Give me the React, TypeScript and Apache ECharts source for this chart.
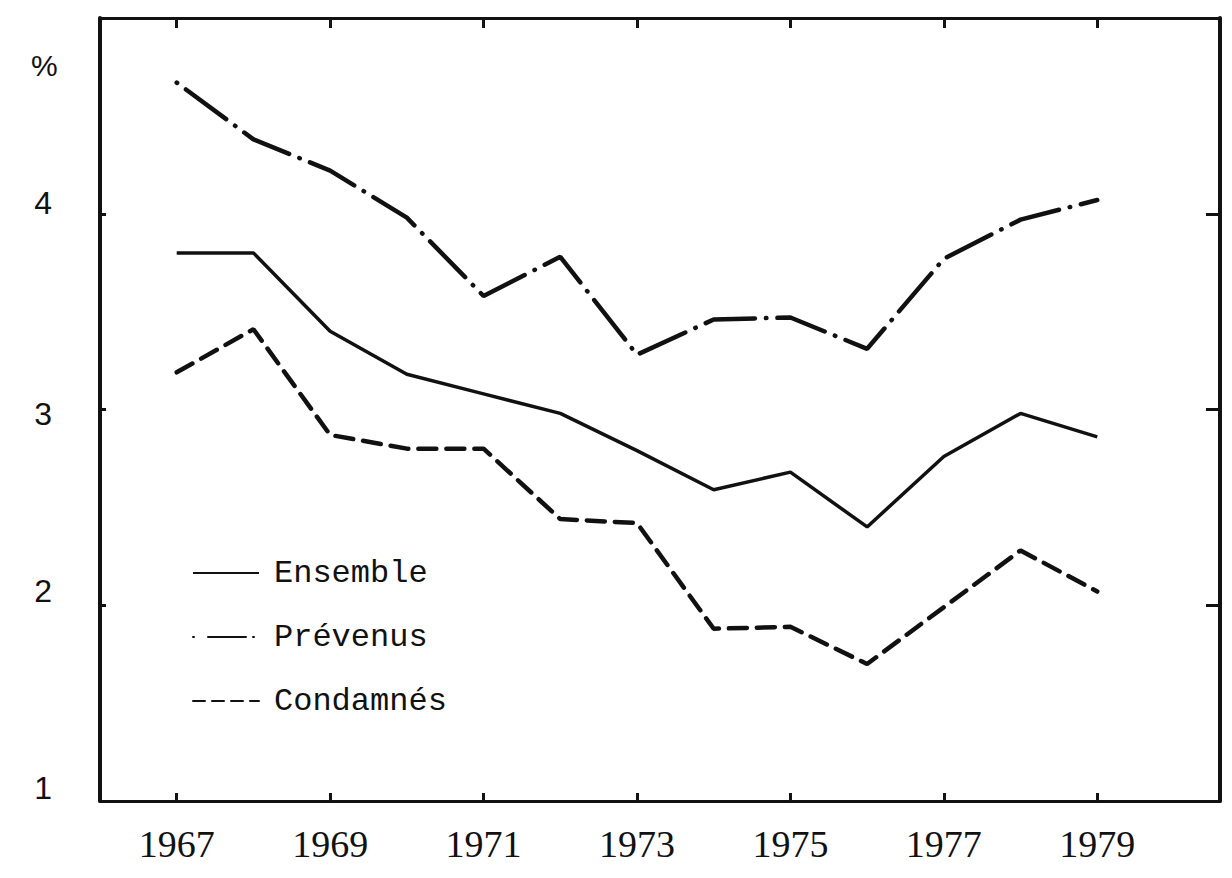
import React, { useEffect, useRef } from "react";
import * as echarts from "echarts";

const years = [1967, 1968, 1969, 1970, 1971, 1972, 1973, 1974, 1975, 1976, 1977, 1978, 1979];
const ensemble = [3.8, 3.8, 3.4, 3.18, 3.08, 2.98, 2.79, 2.59, 2.68, 2.4, 2.76, 2.98, 2.86];
const prevenus = [4.67, 4.38, 4.22, 3.98, 3.58, 3.78, 3.28, 3.46, 3.47, 3.31, 3.77, 3.97, 4.07];
const condamnes = [3.19, 3.41, 2.87, 2.8, 2.8, 2.44, 2.42, 1.88, 1.89, 1.7, 1.99, 2.28, 2.07];
const xLabelYears = [1967, 1969, 1971, 1973, 1975, 1977, 1979];
const yTickValues = [2, 3, 4];
const yLabelValues = [1, 2, 3, 4];
const seriesNames = ["Ensemble", "Prévenus", "Condamnés"];
const unitLabel = "%";

const INK = "#111";
const X_MIN = 1966;
const X_MAX = 1980.6;
const TICK_AXIS_MAX = 1980;
const TICK_STEP = 2;

export default function App() {
  const ref = useRef<HTMLDivElement>(null);
  useEffect(() => {
    document.body.style.margin = "0";
    const chart = echarts.init(ref.current!, null, { renderer: "svg" });
    const pts = (arr: number[]) => years.map((y, i) => [y, arr[i]]);

    const W = 1232;
    const gridLeft = 100;
    const gridRight = 12;
    const gridW = W - gridLeft - gridRight;
    const pxPerYear = gridW / (X_MAX - X_MIN);
    const tickGridRight = W - (gridLeft + (TICK_AXIS_MAX - X_MIN) * pxPerYear);

    const yBase = {
      type: "value",
      min: 1,
      max: 5,
      interval: 1,
      splitLine: { show: false },
    };
    // odd-year ticks are drawn as the minor ticks of an axis whose major ticks fall on even years
    const tickAxisBase = {
      type: "value",
      gridIndex: 1,
      min: X_MIN,
      max: TICK_AXIS_MAX,
      interval: TICK_STEP,
      splitLine: { show: false },
      axisLine: { show: false },
    };
    chart.setOption({
      animation: false,
      backgroundColor: "#fff",
      grid: [
        { left: gridLeft, right: gridRight, top: 18, bottom: 77, outerBoundsMode: "none" },
        { left: gridLeft, right: tickGridRight, top: 18, bottom: 77, outerBoundsMode: "none" },
      ],
      xAxis: [
        {
          type: "value",
          gridIndex: 0,
          min: X_MIN,
          max: X_MAX,
          position: "bottom",
          splitLine: { show: false },
          axisLine: { show: true, lineStyle: { color: INK, width: 3 } },
          axisTick: { show: false },
          axisLabel: { show: false },
        },
        {
          type: "value",
          gridIndex: 0,
          min: X_MIN,
          max: X_MAX,
          position: "top",
          splitLine: { show: false },
          axisLine: { show: true, lineStyle: { color: INK, width: 3 } },
          axisTick: { show: false },
          axisLabel: { show: false },
        },
        {
          ...tickAxisBase,
          position: "bottom",
          axisTick: { show: true, inside: true, length: 10, lineStyle: { color: "rgba(0,0,0,0)", width: 3 } },
          minorTick: {
            show: true,
            splitNumber: 2,
            length: 8,
            lineStyle: { color: "#141414", width: 3, opacity: 1 },
          },
          axisLabel: {
            show: true,
            customValues: xLabelYears,
            formatter: (v: number) => String(v),
            margin: 24,
            fontFamily: "Liberation Serif",
            fontSize: 38,
            color: INK,
          },
        },
        {
          ...tickAxisBase,
          position: "top",
          axisTick: { show: true, inside: true, length: 10, lineStyle: { color: "rgba(0,0,0,0)", width: 3 } },
          minorTick: {
            show: true,
            splitNumber: 2,
            length: 10,
            lineStyle: { color: "#141414", width: 3, opacity: 1 },
          },
          axisLabel: { show: false },
        },
      ],
      yAxis: [
        {
          ...yBase,
          gridIndex: 0,
          position: "left",
          axisLine: { show: true, lineStyle: { color: INK, width: 4 } },
          axisTick: {
            show: true,
            inside: true,
            length: 6,
            customValues: yTickValues,
            lineStyle: { color: INK, width: 3 },
          },
          axisLabel: {
            show: true,
            customValues: yLabelValues,
            margin: 48,
            formatter: (v: number) => `{r${v}|${v}}`,
            color: INK,
            rich: {
              r1: { fontFamily: "Liberation Sans", fontSize: 32, color: INK, padding: [0, 0, 26, 0] },
              r2: { fontFamily: "Liberation Sans", fontSize: 32, color: INK, padding: [0, 0, 28, 0] },
              r3: { fontFamily: "Liberation Sans", fontSize: 32, color: INK, padding: [8, 0, 0, 0] },
              r4: { fontFamily: "Liberation Sans", fontSize: 32, color: INK, padding: [0, 0, 22, 0] },
            },
          },
        },
        {
          ...yBase,
          gridIndex: 0,
          position: "right",
          axisLine: { show: true, lineStyle: { color: INK, width: 4 } },
          axisTick: {
            show: true,
            inside: true,
            length: 14,
            customValues: yTickValues,
            lineStyle: { color: INK, width: 3 },
          },
          axisLabel: { show: false },
        },
        {
          ...yBase,
          gridIndex: 1,
          show: false,
        },
      ],
      legend: {
        orient: "vertical",
        left: 187,
        top: 552,
        itemWidth: 66,
        itemHeight: 14,
        itemGap: 32,
        itemStyle: { opacity: 0 },
        textStyle: {
          fontFamily: "Liberation Mono",
          fontSize: 32,
          lineHeight: 32,
          color: INK,
          padding: [0, 0, 0, 10],
        },
        data: [
          { name: seriesNames[0] },
          { name: seriesNames[1], lineStyle: { type: [1, 14, 38, 7, 1, 60] } },
          { name: seriesNames[2], lineStyle: { type: [12, 7] } },
        ],
      },
      graphic: [
        {
          type: "text",
          left: 31,
          top: 50,
          style: { text: unitLabel, fontFamily: "Liberation Sans", fontSize: 30, fill: INK },
        },
      ],
      series: [
        {
          name: seriesNames[0],
          type: "line",
          xAxisIndex: 0,
          yAxisIndex: 0,
          data: pts(ensemble),
          symbol: "none",
          lineStyle: { color: INK, width: 3.5, type: "solid" },
          itemStyle: { color: INK },
        },
        {
          name: seriesNames[1],
          type: "line",
          xAxisIndex: 0,
          yAxisIndex: 0,
          data: pts(prevenus),
          symbol: "none",
          lineStyle: { color: INK, width: 4.5, type: [0.5, 11, 50, 11], cap: "round" },
          itemStyle: { color: INK },
        },
        {
          name: seriesNames[2],
          type: "line",
          xAxisIndex: 0,
          yAxisIndex: 0,
          data: pts(condamnes),
          symbol: "none",
          lineStyle: { color: INK, width: 4.5, type: [18, 10], cap: "round" },
          itemStyle: { color: INK },
        },
      ],
    });
    return () => chart.dispose();
  }, []);
  return <div ref={ref} style={{ width: 1232, height: 878 }} />;
}
